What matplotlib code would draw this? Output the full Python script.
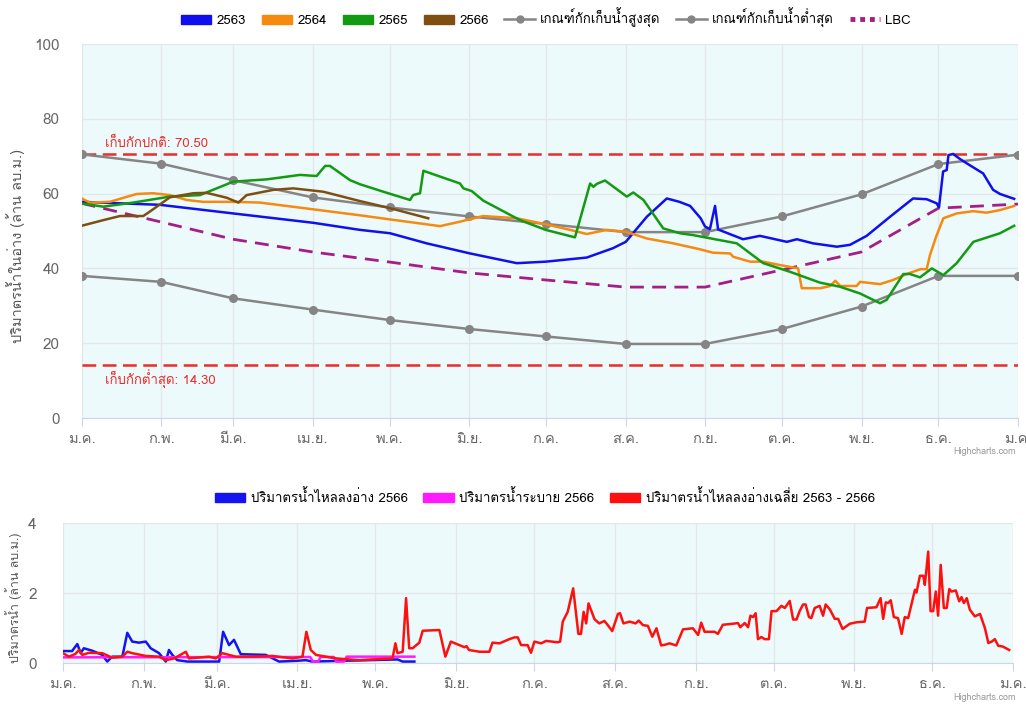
import numpy as np
import matplotlib
matplotlib.use('Agg')
import matplotlib.pyplot as plt
from matplotlib import font_manager
from matplotlib.ft2font import FT2Font
from matplotlib.lines import Line2D
from matplotlib.patches import Patch

# month ticks (day of year)
months = ['ม.ค.', 'ก.พ.', 'มี.ค.', 'เม.ย.', 'พ.ค.', 'มิ.ย.', 'ก.ค.', 'ส.ค.', 'ก.ย.', 'ต.ค.', 'พ.ย.', 'ธ.ค.', 'ม.ค.']
month_days = [0, 31, 59, 90, 120, 151, 181, 212, 243, 273, 304, 334, 365]

# rule curves at month starts
rule_upper = [70.5, 68.0, 63.6, 59.0, 56.3, 53.9, 51.9, 49.7, 49.7, 53.9, 59.8, 67.9, 70.4]
rule_lower = [38.0, 36.4, 32.0, 29.0, 26.2, 23.8, 21.8, 19.8, 19.8, 23.8, 29.8, 38.0, 38.0]
lbc = [57.4, 52.4, 47.8, 44.4, 41.7, 38.8, 36.9, 35.0, 35.0, 39.6, 44.4, 56.1, 57.2]

normal_level = 70.50
min_level = 14.30

# storage by year
d2563 = [0, 30.5, 59, 90.2, 108.5, 120.2, 134.5, 151.4, 169.6, 180.9, 196.9, 207.1, 212.1, 220.3, 228.1,
         233, 237.2, 241.3, 243, 244.9, 246.9, 248.1, 257.8, 264.4, 274.9, 278.8, 285.1, 294.4, 299.5, 306,
         315.1, 324.1, 329.4, 333.3, 334.2, 335.8, 337.2, 337.9, 339.7, 342.5, 345, 351.4, 355.3, 358, 363.5]
v2563 = [57.8, 57.0, 54.7, 52.2, 50.3, 49.4, 46.7, 44.0, 41.4, 41.8, 42.9, 45.4, 47.1, 53.8, 58.7,
         57.8, 56.7, 53.4, 51.2, 50.5, 56.7, 50.4, 47.8, 48.7, 47.1, 47.8, 46.7, 45.8, 46.3, 48.7,
         53.8, 58.7, 58.5, 57.4, 56.3, 65.9, 66.3, 70.3, 70.6, 69.2, 68.1, 65.4, 61.0, 59.9, 58.6]

d2564 = [0, 3.2, 11, 21.4, 27.8, 34.4, 40.9, 47.3, 59, 69.5, 90.2, 108.5, 120.2, 139.7, 147.5, 156.5,
         169.6, 180.9, 190.4, 196.9, 204.7, 212.1, 220.3, 230.6, 241.1, 246.1, 252.8, 254, 260.6, 265.6,
         272.2, 279.3, 280.7, 288, 291.8, 293.8, 295.7, 302.1, 303.4, 311.2, 316.3, 321.6, 327, 329.4,
         330.7, 333.1, 335.9, 341.1, 347.5, 352.8, 358, 363.5]
v2564 = [58.7, 57.6, 57.8, 59.9, 60.1, 59.6, 58.3, 57.8, 57.8, 57.6, 55.8, 54.2, 53.1, 51.3, 52.5, 54.0,
         53.4, 51.8, 50.3, 49.2, 50.3, 49.8, 48.0, 46.7, 45.1, 44.2, 44.0, 43.1, 41.8, 41.8,
         40.9, 40.0, 34.7, 34.7, 35.3, 36.7, 35.3, 35.3, 36.4, 35.8, 36.9, 38.5, 39.8, 39.8,
         43.6, 48.5, 53.4, 54.7, 55.3, 54.9, 55.6, 56.7]

d2565 = [0, 8.4, 20.1, 34.4, 46.1, 59.1, 72.1, 85.1, 91.6, 94.9, 96.8, 104.6, 108.5, 117.6, 128, 129.2,
         131.9, 133.2, 147.5, 148.8, 152, 156.6, 170.9, 180.9, 192.3, 198.2, 199.5, 200.8, 204, 212.5, 215,
         219, 226.7, 233.2, 238.4, 243, 255.4, 265.7, 276.1, 287.8, 295.6, 303.4, 311.2, 313.8, 320.3,
         322.9, 326.8, 331.4, 335.9, 341.1, 347.6, 358, 363.5]
v2565 = [57.4, 56.5, 57.6, 59.2, 59.6, 63.2, 63.8, 65.0, 64.7, 67.4, 67.4, 63.6, 62.5, 60.5, 58.3, 59.6,
         60.1, 66.1, 62.7, 61.4, 60.7, 58.1, 52.9, 50.3, 48.3, 62.7, 61.8, 62.6, 63.5, 59.2, 60.3,
         58.3, 50.7, 49.4, 48.9, 48.3, 46.7, 41.4, 39.1, 36.2, 35.1, 33.3, 30.7, 31.6, 38.5,
         38.5, 37.6, 40.0, 38.2, 41.4, 47.1, 49.4, 51.4]

d2566 = [0, 8.4, 14.9, 24, 26.6, 34.4, 43.5, 48.7, 56.5, 61.1, 64.3, 74.7, 82.5, 94.2, 108.5, 120.2, 135.1]
v2566 = [51.4, 52.9, 54.0, 54.0, 55.2, 59.0, 60.1, 60.2, 58.9, 57.6, 59.6, 61.0, 61.4, 60.5, 58.0, 56.1, 53.4]

# inflow / release (million m3)
inflow_days = [0, 3.5, 5.5, 6.8, 8, 11.2, 15.1, 17, 18.9, 22.8, 24.7, 26.6, 29.2, 31.8, 33.7, 36.9, 39.5,
               40.7, 42, 43.9, 47.8, 60, 61.5, 63.8, 65.7, 68.3, 77.9, 83, 89.5, 93.3, 95.8, 128.5, 130.5, 135]
inflow_2566 = [0.35, 0.35, 0.55, 0.29, 0.43, 0.36, 0.24, 0.05, 0.19, 0.19, 0.87, 0.62, 0.59, 0.62, 0.43, 0.29,
               0.05, 0.38, 0.24, 0.09, 0.05, 0.05, 0.90, 0.52, 0.67, 0.26, 0.24, 0.05, 0.07, 0.09, 0.05, 0.11,
               0.05, 0.05]

release_days = [0, 95, 96, 98, 99, 104, 105, 108, 109, 135]
release_2566 = [0.17, 0.18, 0.05, 0.05, 0.18, 0.18, 0.05, 0.05, 0.19, 0.19]

avg_days = [0, 2.3, 4.8, 6.1, 7.4, 10, 15.1, 18.9, 22.8, 24.7, 26.6, 31.8, 36.9, 39.5, 42.7, 47.2, 48.4,
            56.1, 58.7, 61.2, 63.8, 66.4, 72.8, 80.5, 88.2, 92, 93.5, 95.2, 97.2, 104.8, 113.8, 126.6,
            127.7, 128.5, 130.5, 131.8, 133, 134.3, 136.9, 138.2, 144.6, 146.9, 149, 152.3, 154.2, 155,
            156, 160, 163.8, 165, 167.7, 171.5, 173.4, 174.7, 176, 178.5, 179.8, 181.1, 183.7, 185.6, 190,
            191, 192, 193.9, 196, 198, 199, 200, 201, 201.9, 204.2, 206, 208, 209.3, 211, 213.2, 214,
            215.3, 217.7, 220, 221.2, 222.8, 224.7, 226.4, 228, 229.8, 231.8, 233, 235.6, 238.2, 242, 244,
            245.2, 246.5, 250.3, 251.6, 253.5, 257.4, 259.3, 260.2, 261.9, 263.2, 264.1, 265.1, 266.1,
            267, 268.3, 269.6, 271.2, 272.2, 274.1, 276, 277.3, 279.2, 280.5, 281.8, 283, 284.3, 285.3,
            286.6, 287.5, 288.8, 290.7, 292, 293, 294.6, 296.5, 297.8, 299.5, 302.3, 304.8, 308, 308.9,
            312.5, 314.1, 315.1, 316.1, 317, 318, 319.2, 320.8, 322.2, 323.4, 324.7, 327.3, 327.9, 329.2,
            330.5, 331.1, 332.4, 333.3, 334.3, 335.3, 336.2, 337.2, 338.4, 339.5, 340.5, 341.4, 343,
            344.3, 345.2, 346.1, 347.2, 348.4, 350.3, 352.3, 354.2, 355.5, 356.8, 358, 359.3, 361, 362.3,
            363.5]
avg_inflow = [0.29, 0.19, 0.27, 0.38, 0.24, 0.30, 0.29, 0.16, 0.19, 0.33, 0.29, 0.21, 0.19, 0.09, 0.14, 0.33, 0.14,
              0.19, 0.14, 0.29, 0.24, 0.19, 0.19, 0.21, 0.14, 0.19, 0.90, 0.38, 0.24, 0.14, 0.09, 0.14,
              0.57, 0.29, 0.33, 1.86, 0.43, 0.43, 0.59, 0.93, 0.95, 0.19, 0.62, 0.52, 0.46, 0.49,
              0.38, 0.33, 0.33, 0.59, 0.57, 0.69, 0.74, 0.74, 0.52, 0.52, 0.30, 0.62, 0.57, 0.64, 0.60,
              0.62, 1.19, 1.47, 2.14, 0.84, 0.84, 1.47, 1.14, 1.71, 1.26, 1.14, 1.21, 1.09, 0.92, 1.41, 1.43,
              1.14, 1.19, 1.14, 1.22, 1.09, 1.07, 0.76, 1.00, 0.51, 0.54, 0.57, 0.51, 0.97, 1.00, 0.81,
              1.16, 0.90, 0.90, 0.84, 1.10, 1.13, 1.15, 1.03, 1.15, 1.03, 1.36, 1.32, 1.43,
              0.69, 0.75, 0.69, 0.69, 1.49, 1.49, 1.64, 1.58, 1.78, 1.25, 1.25, 1.49, 1.68, 1.68,
              1.32, 1.29, 1.58, 1.64, 1.36, 1.68, 1.54, 1.27, 1.27, 0.98, 1.13, 1.17, 1.19, 1.58,
              1.60, 1.86, 1.27, 1.74, 1.72, 1.80, 1.32, 1.29, 0.84, 1.32, 1.29, 2.10, 2.02, 2.50,
              2.50, 2.24, 3.19, 1.49, 1.49, 2.05, 1.36, 2.81, 1.58, 1.58, 2.12, 2.05, 2.08,
              1.77, 1.89, 1.72, 1.86, 1.53, 1.34, 1.41, 1.00, 0.58, 0.62, 0.69, 0.50, 0.48, 0.43,
              0.38]


def thai_font():
    for f in font_manager.fontManager.ttflist:
        try:
            if 0x0E01 in FT2Font(f.fname).get_charmap():
                return f.name
        except Exception:
            pass
    return None


th = thai_font()
plt.rcParams['font.family'] = [th, 'DejaVu Sans'] if th else ['DejaVu Sans']

grid_c = '#e4e7ea'
label_c = '#666666'
red_c = '#ec2b2b'
gray_c = '#858585'
lbc_c = '#a51e88'
colors = {'2563': '#1010ee', '2564': '#f7890f', '2565': '#139a13', '2566': '#7f4f12'}


def style(a, ymax, ystep, ypad):
    a.set_facecolor('#edfafb')
    a.set_xlim(0, 365)
    a.set_ylim(0, ymax)
    a.set_xticks(month_days)
    a.set_xticklabels(months)
    a.set_yticks(np.arange(0, ymax + 0.1, ystep))
    a.grid(True, color=grid_c, lw=1)
    a.set_axisbelow(True)
    for s in ['top', 'right', 'left']:
        a.spines[s].set_visible(False)
    a.spines['bottom'].set_color('#ccd6eb')
    a.tick_params(axis='x', length=6, color='#ccd6eb', labelcolor=label_c, labelsize=10.5, pad=4)
    a.tick_params(axis='y', length=0, labelcolor=label_c, labelsize=11, pad=ypad)


fig = plt.figure(figsize=(10.26, 7.04), dpi=100)

# top: storage
ax = fig.add_axes([0.0796, 0.40625, 0.9126, 0.53125])
style(ax, 100, 20, 16)

ax.axhline(normal_level, color=red_c, lw=1.8, dashes=(5.5, 2.6), zorder=2)
ax.axhline(min_level, color=red_c, lw=1.8, dashes=(5.5, 2.6), zorder=2)
ax.text(9, normal_level + 1.2, f'เก็บกักปกติ: {normal_level:.2f}', color=red_c, fontsize=9.5, va='bottom')
ax.text(9, min_level - 1.5, f'เก็บกักต่ำสุด: {min_level:.2f}', color=red_c, fontsize=9.5, va='top')

ax.plot(month_days, rule_upper, color=gray_c, lw=1.8, marker='o', ms=5.5, zorder=3)
ax.plot(month_days, rule_lower, color=gray_c, lw=1.8, marker='o', ms=5.5, zorder=3)
ax.plot(month_days, lbc, color=lbc_c, lw=2, dashes=(5, 3), zorder=3)

ax.plot(d2563, v2563, color=colors['2563'], lw=1.8, zorder=4)
ax.plot(d2564, v2564, color=colors['2564'], lw=1.8, zorder=4)
ax.plot(d2565, v2565, color=colors['2565'], lw=1.8, zorder=4)
ax.plot(d2566, v2566, color=colors['2566'], lw=1.8, zorder=4)

ax.set_ylabel('ปริมาตรน้ำในอ่าง (ล้าน ลบ.ม.)', color='#555555', fontsize=10.5)
ax.yaxis.set_label_coords(-0.0605, 0.46)

h_top = [Patch(color=colors[k]) for k in colors]
h_top += [Line2D([], [], color=gray_c, lw=1.8, marker='o', ms=5),
          Line2D([], [], color=gray_c, lw=1.8, marker='o', ms=5),
          Line2D([], [], color=lbc_c, lw=3.5, linestyle=(0, (1, 1)))]
l_top = list(colors) + ['เกณฑ์กักเก็บน้ำสูงสุด', 'เกณฑ์กักเก็บน้ำต่ำสุด', 'LBC']
fig.legend(h_top, l_top, loc='center', bbox_to_anchor=(0.532, 0.974), ncol=7, frameon=False,
           fontsize=9.5, handlelength=2.3, handleheight=0.75, columnspacing=1.2, handletextpad=0.4,
           numpoints=1)

# bottom: inflow / release
ax2 = fig.add_axes([0.0614, 0.0578, 0.926, 0.199])
style(ax2, 4, 2, 19)
ax2.plot(inflow_days, inflow_2566, color='#1414f0', lw=1.8, zorder=3)
ax2.plot(release_days, release_2566, color='#ff1aff', lw=1.8, zorder=3)
ax2.plot(avg_days, avg_inflow, color='#ff1010', lw=1.8, zorder=4)
ax2.set_ylabel('ปริมาตรน้ำ (ล้าน ลบ.ม.)', color='#555555', fontsize=9)
ax2.yaxis.set_label_coords(-0.043, 0.47)

h_bot = [Patch(color='#1414f0'), Patch(color='#ff1aff'), Patch(color='#ff1010')]
l_bot = ['ปริมาตรน้ำไหลลงอ่าง 2566', 'ปริมาตรน้ำระบาย 2566', 'ปริมาตรน้ำไหลลงอ่างเฉลี่ย 2563 - 2566']
fig.legend(h_bot, l_bot, loc='center', bbox_to_anchor=(0.531, 0.294), ncol=3, frameon=False,
           fontsize=9.5, handlelength=2.3, handleheight=0.75, columnspacing=1.2, handletextpad=0.4)

fig.text(0.99, 1 - 452 / 704, 'Highcharts.com', ha='right', va='center', fontsize=6.5, color='#999999')
fig.text(0.99, 1 - 697 / 704, 'Highcharts.com', ha='right', va='center', fontsize=6.5, color='#999999')

fig.savefig('out.png', dpi=100)
